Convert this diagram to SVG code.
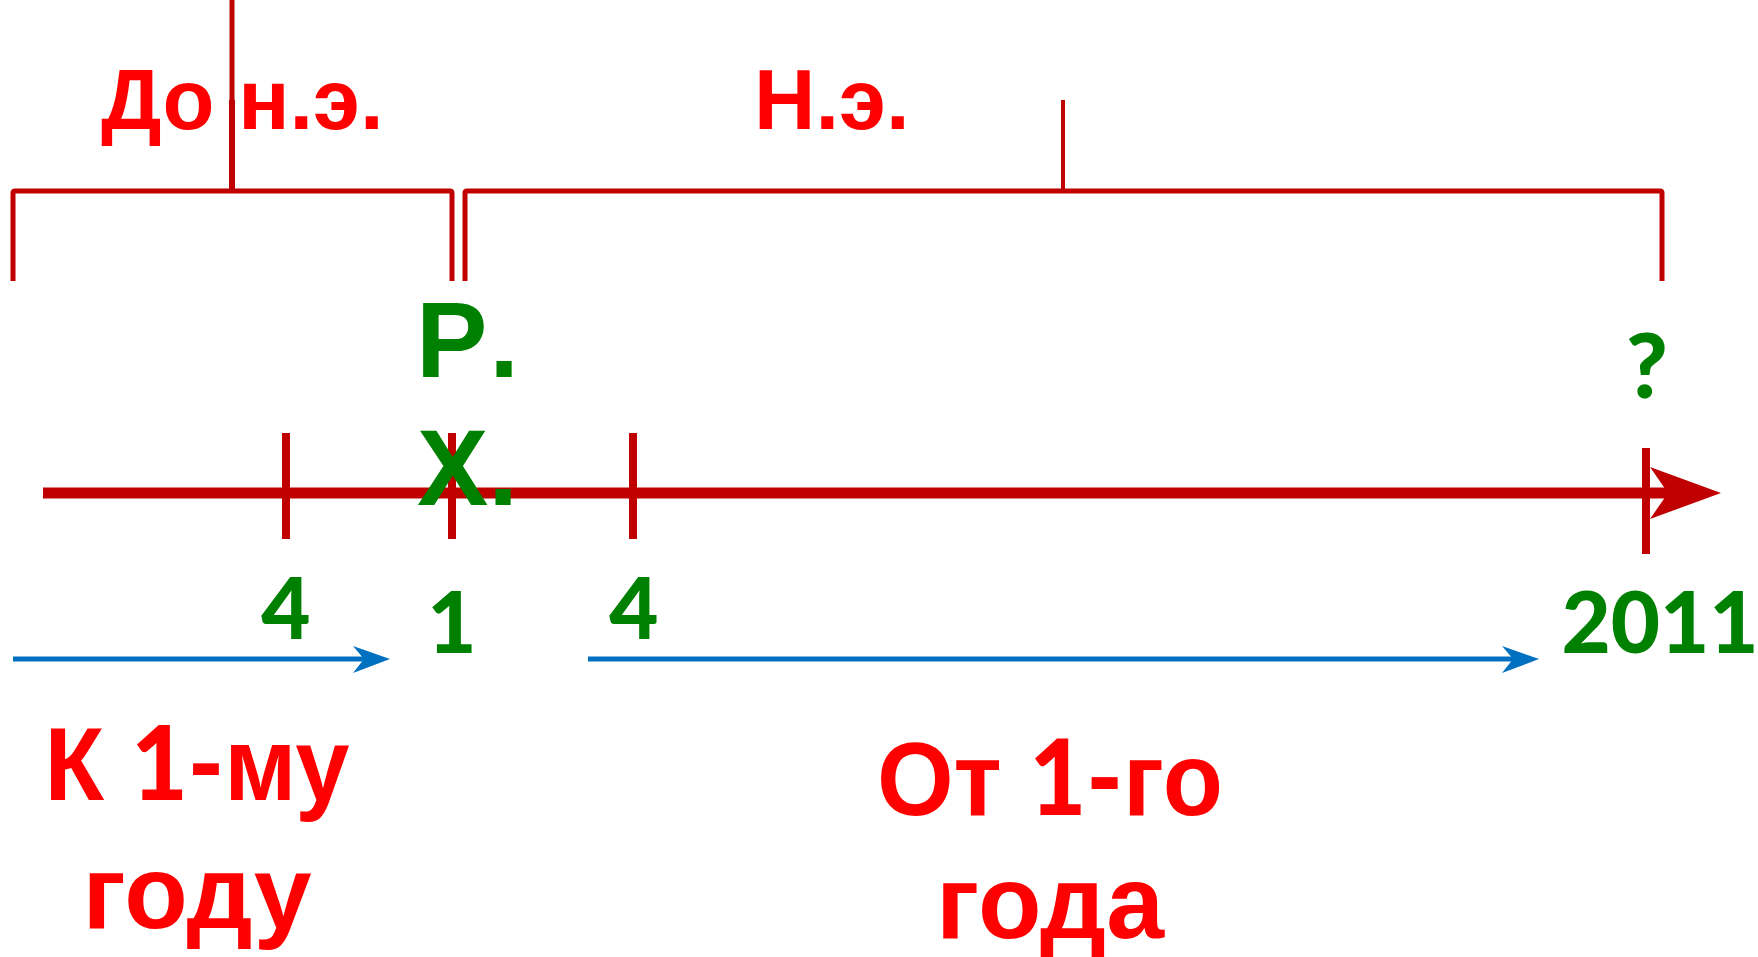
<svg xmlns="http://www.w3.org/2000/svg" width="1758" height="957" viewBox="0 0 1758 957">
<style>
.br{fill:none;stroke:#C00000;stroke-width:5}
.tk{stroke:#C00000;stroke-width:8}
.red{fill:#FF0000;font-family:"Liberation Sans",Arial,sans-serif;font-weight:bold}
.grn{fill:#008000;font-family:"Liberation Sans",Arial,sans-serif;font-weight:bold}
.num{fill:#008000;font-family:Lato,"Open Sans",sans-serif;font-weight:900}
.cal{font-family:Lato,"Liberation Sans",sans-serif;font-weight:900}
.bl{stroke:#0070C0;stroke-width:5;fill:none}
</style>
<rect width="1758" height="957" fill="#FFFFFF"/>
<g id="brace-bc">
<line x1="232" y1="0" x2="232" y2="191" stroke="#C00000" stroke-width="5"/>
<line x1="232" y1="100" x2="232" y2="191" stroke="#C00000" stroke-width="6"/>
<path class="br" d="M13,281 V193 Q13,191 15,191 H450 Q452,191 452,193 V281"/>
</g>
<g id="brace-ad">
<line x1="1063" y1="100" x2="1063" y2="191" stroke="#C00000" stroke-width="4"/>
<path class="br" d="M465,281 V193 Q465,191 467,191 H1660 Q1662,191 1662,193 V281"/>
</g>
<g id="label-bc"><text class="red" x="101" y="129" font-size="85">До н.э.</text></g>
<g id="label-ad"><text class="red" x="754" y="129" font-size="85">Н.э.</text></g>
<g id="connectors">
<line x1="43" y1="493" x2="1670" y2="493" stroke="#C00000" stroke-width="11"/>
<polygon points="1721,493 1650,467 1668,493 1650,519" fill="#C00000"/>
<line class="tk" x1="286" y1="433" x2="286" y2="539"/>
<line class="tk" x1="452" y1="433" x2="452" y2="539"/>
<line class="tk" x1="633" y1="433" x2="633" y2="539"/>
<line class="tk" x1="1646" y1="448" x2="1646" y2="554"/>
<line class="bl" x1="13" y1="659" x2="366" y2="659"/>
<polygon points="390,659 353,646 364,659 353,673" fill="#0070C0"/>
<line class="bl" x1="588" y1="659" x2="1515" y2="659"/>
<polygon points="1539,659 1502,646 1513,659 1502,673" fill="#0070C0"/>
</g>
<g id="rx">
<text class="grn" x="416" y="377" font-size="107">Р<tspan dx="18">.</tspan></text>
<text class="grn" x="417" y="505" font-size="107">Х.</text>
</g>
<g id="q"><text class="num" x="1647" y="398" font-size="90" text-anchor="middle">?</text></g>
<g id="n4a"><text class="num" x="286" y="639" font-size="85" text-anchor="middle">4</text></g>
<g id="n1"><text class="num" x="452" y="653" font-size="85" text-anchor="middle">1</text></g>
<g id="n4b"><text class="num" x="634" y="639" font-size="85" text-anchor="middle">4</text></g>
<g id="n2011"><text class="num" x="1660" y="653" font-size="85" text-anchor="middle">2011</text></g>
<g id="label-to1">
<text class="red" x="197" y="800" font-size="103" text-anchor="middle" textLength="305" lengthAdjust="spacingAndGlyphs">К <tspan class="cal">1-</tspan>му</text>
<text class="red" x="197" y="928" font-size="104" text-anchor="middle">году</text>
</g>
<g id="label-from1">
<text class="red" x="1050" y="815" font-size="104" text-anchor="middle" textLength="346" lengthAdjust="spacingAndGlyphs">От <tspan class="cal">1-</tspan>го</text>
<text class="red" x="1050" y="938" font-size="104" text-anchor="middle">года</text>
</g>
</svg>
